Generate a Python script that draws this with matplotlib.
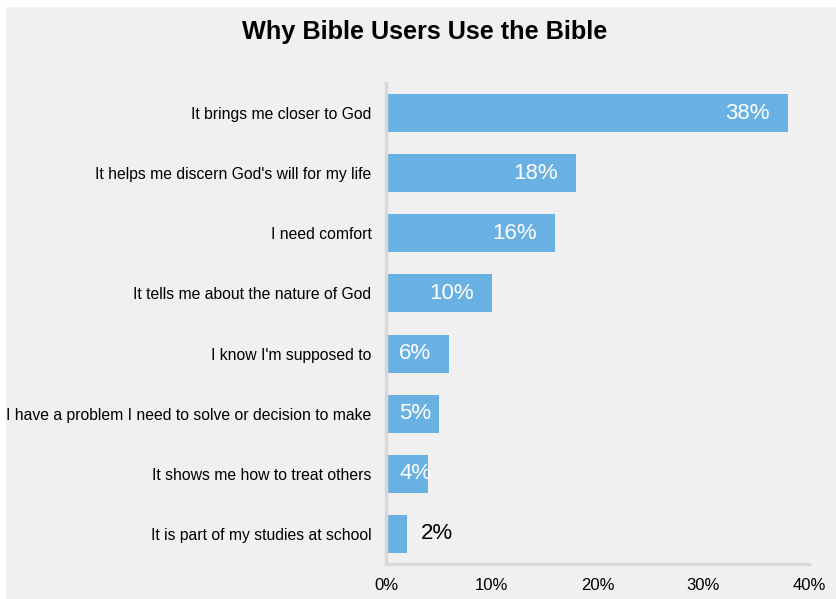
import matplotlib
matplotlib.use("Agg")
import matplotlib.pyplot as plt
from matplotlib.patches import Rectangle

categories = [
    "It brings me closer to God",
    "It helps me discern God's will for my life",
    "I need comfort",
    "It tells me about the nature of God",
    "I know I'm supposed to",
    "I have a problem I need to solve or decision to make",
    "It shows me how to treat others",
    "It is part of my studies at school",
]
values = [38, 18, 16, 10, 6, 5, 4, 2]
ticks = [0, 10, 20, 30, 40]
tick_labels = ["0%", "10%", "20%", "30%", "40%"]

bg = "#f0f0f0"
bar_color = "#68b1e2"

# Liberation Sans Narrow is registered as Liberation Sans, condensed
narrow = dict(family=["Liberation Sans", "DejaVu Sans"], stretch="condensed")

W, H = 836, 599
fig = plt.figure(figsize=(W / 100, H / 100), dpi=100)
fig.patch.set_facecolor("white")
fig.patches.append(Rectangle((6 / W, 0), 1, (H - 7) / H, transform=fig.transFigure,
                             facecolor=bg, edgecolor="none", zorder=-10))

ax = fig.add_axes([386 / W, (H - 564) / H, (809 - 386) / W, (564 - 83) / H])
ax.set_facecolor(bg)

y = list(range(len(categories)))
ax.barh(y, values, height=0.63, color=bar_color, zorder=2)
ax.set_ylim(len(categories) - 0.5, -0.5)
ax.set_xlim(0, 40)

for i, v in enumerate(values):
    if v >= 4:
        ax.text(max(v - 1.7, 4.3), i, f"{v}%", ha="right", va="center",
                color="white", fontsize=16, zorder=3, **narrow)
    else:
        ax.text(v + 1.3, i, f"{v}%", ha="left", va="center",
                color="black", fontsize=16, zorder=3, **narrow)

ax.set_yticks(y)
ax.set_yticklabels(categories, fontsize=11.3, **narrow)
ax.set_xticks(ticks)
ax.set_xticklabels(tick_labels, fontsize=12, **narrow)
ax.tick_params(axis="both", length=0)
ax.tick_params(axis="y", pad=10.5)
ax.tick_params(axis="x", pad=10)

for s in ["top", "right"]:
    ax.spines[s].set_visible(False)
for s in ["left", "bottom"]:
    ax.spines[s].set_color("#d9d9d9")
    ax.spines[s].set_linewidth(2.5)

fig.text(425 / W, 1 - 32 / H, "Why Bible Users Use the Bible", ha="center", va="center",
         fontsize=18.2, fontweight="bold", fontstretch="normal",
         family=["Liberation Sans", "DejaVu Sans"])

fig.savefig("out.png", dpi=100, facecolor=fig.get_facecolor())
